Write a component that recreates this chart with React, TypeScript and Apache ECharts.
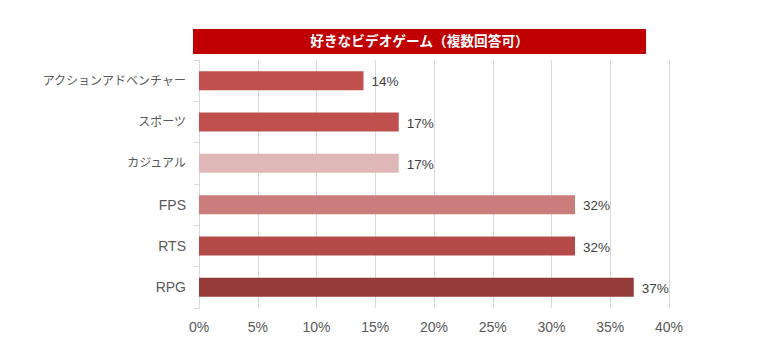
import React, { useEffect, useRef } from "react";
import * as echarts from "echarts";

const titleText = "好きなビデオゲーム（複数回答可）";
const categories = ["アクションアドベンチャー", "スポーツ", "カジュアル", "FPS", "RTS", "RPG"];
const values = [14, 17, 17, 32, 32, 37];
const barColors = ["#c0504d", "#c0504d", "#dfb7b7", "#cb7d7c", "#b44b49", "#943b3a"];
const xTicks = { min: 0, max: 40, interval: 5 };

const FONT = "'Liberation Sans', Arial, 'Noto Sans CJK JP', sans-serif";

export default function App() {
  const ref = useRef<HTMLDivElement>(null);
  useEffect(() => {
    if (!ref.current) return;
    const chart = echarts.init(ref.current, null, { renderer: "svg" });
    chart.setOption({
      animation: false,
      backgroundColor: "#ffffff",
      textStyle: { fontFamily: FONT },
      graphic: [
        {
          type: "rect",
          shape: { x: 193, y: 29, width: 453, height: 25 },
          style: { fill: "#c00000" },
        },
        {
          type: "text",
          x: 419.5,
          y: 41,
          style: {
            text: titleText,
            fill: "#ffffff",
            font: `bold 13.7px ${FONT}`,
            align: "center",
            verticalAlign: "middle",
          },
        },
      ],
      grid: { left: 199, right: 98, top: 60, bottom: 45, containLabel: false },
      xAxis: {
        type: "value",
        min: xTicks.min,
        max: xTicks.max,
        interval: xTicks.interval,
        axisLine: { show: false },
        axisTick: { show: false },
        splitLine: { show: true, lineStyle: { color: "#d9d9d9", width: 1 } },
        axisLabel: {
          formatter: "{value}%",
          color: "#595959",
          fontSize: 14,
          margin: 12,
          fontFamily: FONT,
        },
      },
      yAxis: {
        type: "category",
        inverse: true,
        data: categories,
        axisLine: { show: true, lineStyle: { color: "#d9d9d9" } },
        axisTick: { show: true, length: 5, lineStyle: { color: "#d9d9d9" } },
        axisLabel: {
          color: "#595959",
          fontSize: 14,
          margin: 13,
          fontFamily: FONT,
          formatter: (v: string) => (/^[\x00-\x7f]+$/.test(v) ? `{en|${v}}` : `{jp|${v}}`),
          rich: {
            en: { fontSize: 14, color: "#595959", fontFamily: FONT },
            jp: { fontSize: 12, color: "#595959", fontFamily: FONT },
          },
        },
      },
      series: [
        {
          type: "bar",
          barWidth: 19,
          data: values.map((v, i) => ({ value: v, itemStyle: { color: barColors[i] } })),
          label: {
            show: true,
            position: "right",
            distance: 8,
            offset: [0, 1],
            formatter: "{c}%",
            color: "#404040",
            fontSize: 13.5,
            fontFamily: FONT,
          },
        },
      ],
    });
    return () => chart.dispose();
  }, []);
  return <div ref={ref} style={{ width: 767, height: 353, position: "absolute", left: 0, top: 0 }} />;
}
